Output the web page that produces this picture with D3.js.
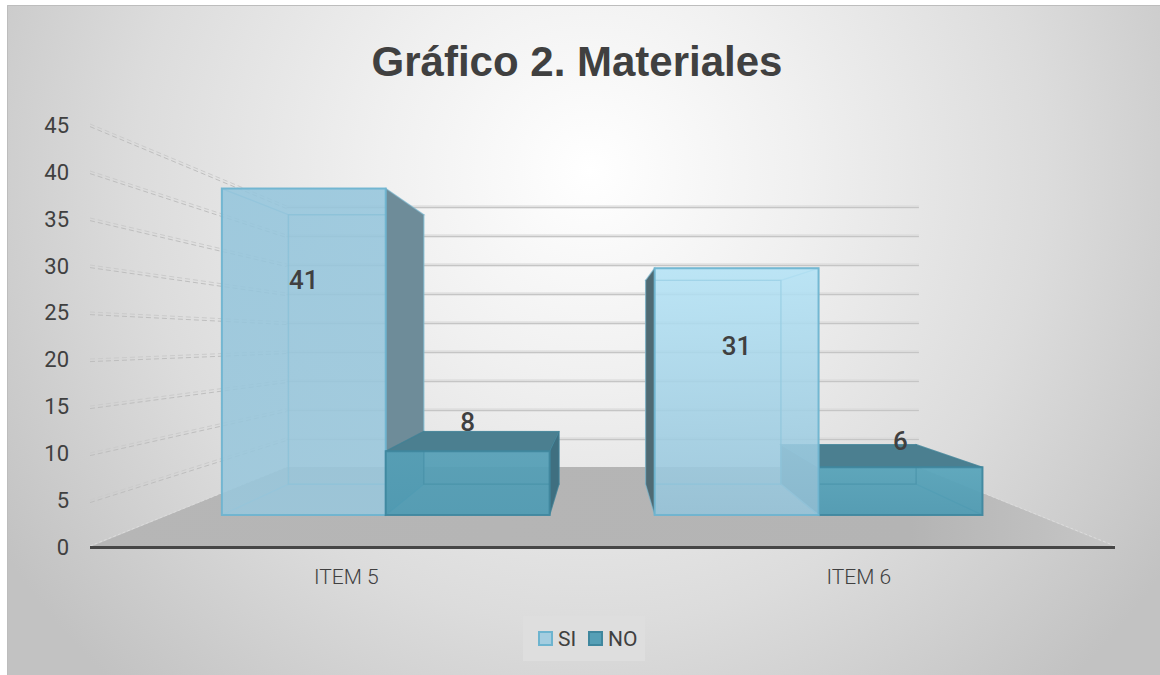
<!DOCTYPE html>
<html><head><meta charset="utf-8">
<script src="https://cdn.jsdelivr.net/npm/d3@7/dist/d3.min.js"></script>
<style>html,body{margin:0;padding:0;background:#fff;overflow:hidden}svg{display:block}text{fill:#404040}</style>
</head><body><svg id="c" width="1160" height="675"></svg>
<script>
const title = "Gráfico 2. Materiales";
const categories = ["ITEM 5", "ITEM 6"];
const seriesNames = ["SI", "NO"];
const valuesSI = [41, 31];
const valuesNO = [8, 6];
const yTicks = [0, 5, 10, 15, 20, 25, 30, 35, 40, 45];

const font = "Roboto, sans-serif";
const svg = d3.select("#c");
const defs = svg.append("defs");
const W = 1160, H = 675;

// perspective: s=1 on the front plane, shrinking towards the back wall
const vx = 603, vy = 338, floorK = 209;
const x0 = d3.scaleBand().domain(categories).range([90, 1115]);
const xBars = d3.scaleBand().domain(categories).range([91, 1113]);
const groupPad = 62;
const barX = (c, n) => {
  const inner = d3.scaleBand().domain(seriesNames).range([xBars(c) + groupPad, xBars(c) + xBars.bandwidth() - groupPad]);
  return [inner(n), inner(n) + inner.bandwidth()];
};
const y = d3.scaleLinear().domain([0, 45]).range([0, 423]);
const depth = d3.scaleLinear().domain([0, 1]).range([1, 0.617]);
const sFrontBar = 0.847, sBackBar = 0.699;
const P = (xf, v, s) => [vx + (xf - vx) * s, vy + floorK * s - y(v) * s];
const poly = pts => pts.map(p => p.join(",")).join(" ");

// background
const bg = defs.append("radialGradient").attr("id", "bg").attr("gradientUnits", "userSpaceOnUse")
  .attr("cx", 590).attr("cy", 170).attr("r", 700);
[[0, "#ffffff"], [0.3, "#f0f0f0"], [0.65, "#dcdcdc"], [1, "#c2c2c2"]].forEach(d => bg.append("stop").attr("offset", d[0]).attr("stop-color", d[1]));
svg.append("rect").attr("x", 7).attr("y", 5).attr("width", W - 7).attr("height", H - 5).attr("fill", "url(#bg)");
svg.append("path").attr("d", `M7.5,${H}V5.5H${W}`).attr("fill", "none").attr("stroke", "#bdbdbd");

// floor
const fl = defs.append("linearGradient").attr("id", "floor").attr("gradientUnits", "userSpaceOnUse")
  .attr("x1", 90).attr("x2", 1115).attr("y1", 0).attr("y2", 0);
[[0, "#b6b6b6"], [0.8, "#b4b4b4"], [1, "#c6c6c6"]].forEach(d => fl.append("stop").attr("offset", d[0]).attr("stop-color", d[1]));
const xL = x0.range()[0], xR = x0.range()[1], sB = depth(1);
svg.append("polygon").attr("points", poly([P(xL, 0, 1), P(xL, 0, sB), P(xR, 0, sB), P(xR, 0, 1)])).attr("fill", "url(#floor)");

// gridlines
const grid = svg.append("g").attr("fill", "none");
yTicks.forEach(t => {
  const a = P(xL, t, 1), b = P(xL, t, sB), c = P(xR, t, sB);
  if (t > 0) {
    [0, 2.6].forEach((o, i) => grid.append("line").attr("x1", a[0]).attr("y1", a[1] + o).attr("x2", b[0]).attr("y2", b[1] + o)
      .attr("stroke", i ? "#bebebe" : "#cbcbcb").attr("stroke-width", 1).attr("stroke-dasharray", "5 3"));
    grid.append("line").attr("x1", b[0]).attr("y1", b[1] + 1).attr("x2", c[0]).attr("y2", c[1] + 1).attr("stroke", "#d8d8d8").attr("stroke-width", 3.4).attr("stroke-opacity", 0.7);
    grid.append("line").attr("x1", b[0]).attr("y1", b[1] + 1.5).attr("x2", c[0]).attr("y2", c[1] + 1.5).attr("stroke", "#c4c4c4").attr("stroke-width", 1);
  } else {
    grid.append("line").attr("x1", a[0]).attr("y1", a[1] - 1).attr("x2", b[0]).attr("y2", b[1]).attr("stroke", "#dcdcdc").attr("stroke-dasharray", "3 2");
    const d = P(xR, t, 1);
    grid.append("line").attr("x1", d[0]).attr("y1", d[1] - 1).attr("x2", c[0]).attr("y2", c[1]).attr("stroke", "#dcdcdc").attr("stroke-dasharray", "3 2");
  }
});

// bars, farthest from the centre first so they overlap as in the picture
const frontStops = {
  "SI|ITEM 5": ["#94c5dc", "#99c7dc"],
  "SI|ITEM 6": ["#b4e3f6", "#95c4da"],
  "NO|ITEM 5": ["#559fb6", "#4f9bb3"],
  "NO|ITEM 6": ["#58a5bb", "#4f9bb3"]
};
const style = {
  SI: { edge: "#6db4cf", inner: "#7fbcd4", alpha: 0.85, leftOut: "#4f6a73", rightOut: "#6e8c99", topOut: "#a8d2e4", botFill: "#9cc3d5" },
  NO: { edge: "#3f879e", inner: "#3c8298", alpha: 0.92, leftOut: "#3a6a7a", rightOut: "#3f6f80", topOut: "#4b7f90", botFill: "#4f9bb3" }
};
const bars = [];
categories.forEach((c, i) => {
  seriesNames.forEach((n, j) => {
    const v = (j === 0 ? valuesSI : valuesNO)[i];
    const [a, b] = barX(c, n);
    bars.push({ c, n, v, a, b, i, j });
  });
});
bars.sort((p, q) => Math.abs((q.a + q.b) / 2 - vx) - Math.abs((p.a + p.b) / 2 - vx));

const gBars = svg.append("g");
bars.forEach((d, k) => {
  const st = style[d.n], g = gBars.append("g");
  const FL0 = P(d.a, 0, sFrontBar), FR0 = P(d.b, 0, sFrontBar), FLv = P(d.a, d.v, sFrontBar), FRv = P(d.b, d.v, sFrontBar);
  const BL0 = P(d.a, 0, sBackBar), BR0 = P(d.b, 0, sBackBar), BLv = P(d.a, d.v, sBackBar), BRv = P(d.b, d.v, sBackBar);
  const leftOut = BL0[0] < FL0[0], rightOut = BR0[0] > FR0[0], topOut = BLv[1] < FLv[1];
  const face = (pts, fill, op) => g.append("polygon").attr("points", poly(pts)).attr("fill", fill).attr("fill-opacity", op)
    .attr("stroke", st.inner).attr("stroke-opacity", 0.5).attr("stroke-width", 1.2);
  face([BLv, BRv, BR0, BL0], st.botFill, 0.12);
  face([FL0, FR0, BR0, BL0], st.botFill, 0.15);
  if (!leftOut) face([FLv, BLv, BL0, FL0], st.botFill, 0.14);
  if (!rightOut) face([FRv, BRv, BR0, FR0], st.botFill, 0.14);
  if (!topOut) face([FLv, FRv, BRv, BLv], st.topOut, 0.14);
  const id = "f" + k, grad = defs.append("linearGradient").attr("id", id).attr("gradientUnits", "userSpaceOnUse")
    .attr("x1", 0).attr("x2", 0).attr("y1", FLv[1]).attr("y2", FL0[1]);
  frontStops[d.n + "|" + d.c].forEach((s, i) => grad.append("stop").attr("offset", i).attr("stop-color", s));
  g.append("polygon").attr("points", poly([FLv, FRv, FR0, FL0])).attr("fill", `url(#${id})`).attr("fill-opacity", st.alpha);
  // the inner edges stay faintly visible through the transparent front
  g.append("polygon").attr("points", poly([BLv, BRv, BR0, BL0])).attr("fill", "none").attr("stroke", st.inner).attr("stroke-opacity", 0.28).attr("stroke-width", 1.4);
  if (leftOut) face([FLv, BLv, BL0, FL0], st.leftOut, 1);
  if (rightOut) face([FRv, BRv, BR0, FR0], st.rightOut, 1);
  if (topOut) face([FLv, FRv, BRv, BLv], st.topOut, 1);
  g.append("polygon").attr("points", poly([FLv, FRv, FR0, FL0])).attr("fill", "none").attr("stroke", st.edge).attr("stroke-width", 2).attr("stroke-opacity", 0.9);
});

// baseline
svg.append("line").attr("x1", xL).attr("x2", xR).attr("y1", 547.5).attr("y2", 547.5).attr("stroke", "#464646").attr("stroke-width", 3);

// y axis
const yAxisScale = d3.scaleLinear().domain([0, 45]).range([546.5, 124.5]);
const yAxis = svg.append("g").attr("transform", "translate(69,0)").call(d3.axisLeft(yAxisScale).tickValues(yTicks).tickSize(0).tickPadding(0));
yAxis.select(".domain").remove();
yAxis.selectAll("text").style("font-family", font).style("font-size", "22px").style("fill", "#404040").attr("dy", "0.36em");

// x axis
const xAxis = svg.append("g").attr("transform", "translate(0,569)").call(d3.axisBottom(x0).tickSize(0).tickPadding(0));
xAxis.select(".domain").remove();
xAxis.selectAll("text").style("font-family", font).style("font-size", "21px").style("font-weight", 300).style("fill", "#404040").attr("dy", "0.71em");

// value labels
const labelY = { SI: d3.scaleLinear().domain([0, 10]).range([550, 484]), NO: d3.scaleLinear().domain([0, 2]).range([498, 479]) };
bars.forEach(d => {
  const xc = P((d.a + d.b) / 2, 0, sFrontBar)[0];
  svg.append("text").attr("x", xc).attr("y", labelY[d.n](d.v)).attr("text-anchor", "middle").attr("dy", "0.36em")
    .style("font-family", font).style("font-size", "26px").style("font-weight", 500).text(d.v);
});

// title
svg.append("text").attr("x", 577).attr("y", 76).attr("text-anchor", "middle")
  .style("font-family", "'Liberation Sans', sans-serif").style("font-size", "42px").style("font-weight", 700).text(title);

// legend
const lg = svg.append("g");
lg.append("rect").attr("x", 523).attr("y", 616).attr("width", 122).attr("height", 45).attr("fill", "#dedede");
const legendX = d3.scaleOrdinal().domain(seriesNames).range([539, 589]);
const legendFill = { SI: "#a3cde0", NO: "#559fb6" };
seriesNames.forEach(n => {
  lg.append("rect").attr("x", legendX(n)).attr("y", 632).attr("width", 13).attr("height", 13)
    .attr("fill", legendFill[n]).attr("stroke", style[n].edge).attr("stroke-width", 2);
  lg.append("text").attr("x", legendX(n) + 19).attr("y", 638.5).attr("dy", "0.36em")
    .style("font-family", font).style("font-size", "21px").text(n);
});
</script></body></html>
